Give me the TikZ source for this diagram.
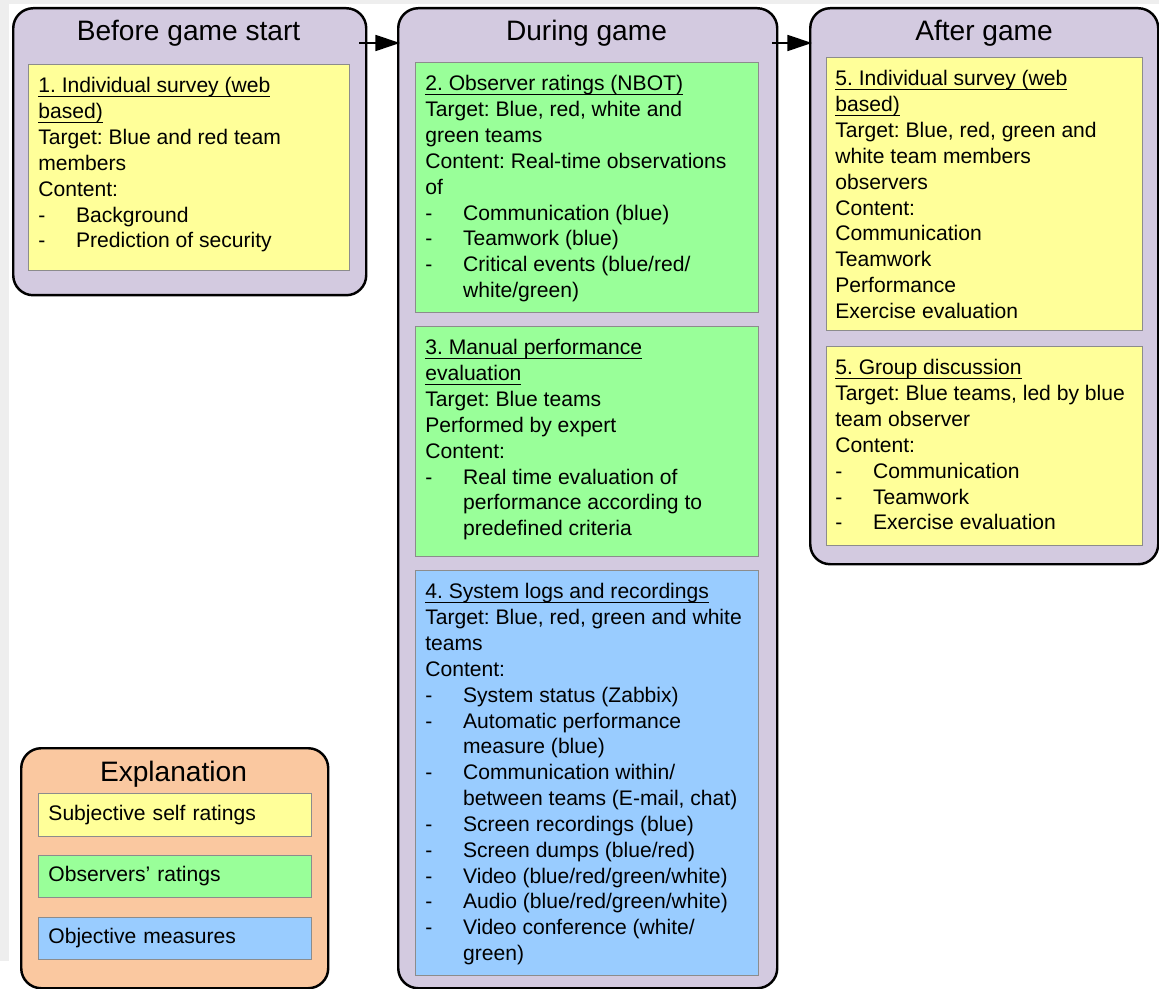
\documentclass[tikz,border=0pt]{standalone}
\usepackage{fontspec}
\setmainfont{Liberation Sans}
\usetikzlibrary{arrows.meta,calc}
\frenchspacing

\definecolor{lav}{RGB}{211,202,224}
\definecolor{yel}{RGB}{255,255,153}
\definecolor{grn}{RGB}{153,255,153}
\definecolor{blu}{RGB}{153,204,255}
\definecolor{peach}{RGB}{250,200,160}
\definecolor{haze}{RGB}{238,238,238}

% underlined heading line
\newcommand\uln[1]{\setbox0\hbox{#1}\rlap{\rule[-2.4pt]{\wd0}{0.6pt}}\box0}
% dashed list entry and its continuation line
\newcommand\dashitem[1]{\makebox[21.5pt][l]{-}#1}
\newcommand\cont[1]{\hspace*{21.5pt}#1}

\tikzset{
  stage/.style={draw=black, line width=1.4pt, rounded corners=0.4cm,
    anchor=north west, inner sep=0pt},
  card/.style={draw=black!45, line width=0.5pt, anchor=north west, inner sep=0pt},
  body/.style={anchor=north west, inner sep=0pt, align=left,
    font=\fontsize{12}{14.7}\selectfont},
  heading/.style={anchor=base, inner sep=0pt, font=\fontsize{16}{19}\selectfont},
  legend/.style={card, align=left, inner xsep=0.2cm, inner ysep=0pt,
    text width=5.06cm, font=\fontsize{12}{14.7}\selectfont},
  flow/.style={line width=1.3pt, -{Triangle[length=14pt,width=9pt]}},
}

\begin{document}
\begin{tikzpicture}[x=0.02cm, y=-0.02cm]
\useasboundingbox (0,0) rectangle (1159,989);
\clip (0,0) rectangle (1159,989);

% page margin strips
\fill[haze] (0,0) rectangle (1159,4);
\fill[haze] (0,0) rectangle (9,961);

% phase frames
\node[stage, fill=lav, minimum width={353*0.02cm}, minimum height={287*0.02cm}] (oA) at (12,7) {};
\node[stage, fill=lav, minimum width={379*0.02cm}, minimum height={980*0.02cm}] (oB) at (397,7) {};
\node[stage, fill=lav, minimum width={348*0.02cm}, minimum height={556*0.02cm}] (oC) at (809,7) {};
\node[stage, fill=peach, minimum width={307*0.02cm}, minimum height={240*0.02cm}] (oE) at (20,747) {};

% phase titles
\node[heading] (tA) at (188.5,41) {Before game start};
\node[heading] (tB) at (586.5,41) {During game};
\node[heading] (tC) at (984,41) {After game};
\node[heading] (tE) at (173.5,781) {Explanation};

% flow between phases
\draw[flow] ($(oA.north east)+(-8,36)$) -- ($(oB.north west)+(3,36)$);
\draw[flow] ($(oB.north east)+(-6,36)$) -- ($(oC.north west)+(3,36)$);

% measurement cards
\node[card, fill=yel, minimum width={321*0.02cm}, minimum height={206*0.02cm}] (c1) at (28,64) {};
\node[card, fill=grn, minimum width={343*0.02cm}, minimum height={250*0.02cm}] (c2) at (415,62) {};
\node[card, fill=grn, minimum width={343*0.02cm}, minimum height={230*0.02cm}] (c3) at (415,326) {};
\node[card, fill=blu, minimum width={343*0.02cm}, minimum height={405*0.02cm}] (c4) at (415,570) {};
\node[card, fill=yel, minimum width={316*0.02cm}, minimum height={273*0.02cm}] (c5) at (826,57) {};
\node[card, fill=yel, minimum width={316*0.02cm}, minimum height={199*0.02cm}] (c6) at (826,346) {};

\node[body] (x1) at ($(c1.north west)+(10,10.5)$) {\strut\uln{1. Individual survey (web}\\
\uln{based)}\\
Target: Blue and red team\\
members\\
Content:\\
\dashitem{Background}\\
\dashitem{Prediction of security}};

\node[body] (x2) at ($(c2.north west)+(10,10.5)$) {\strut\uln{2. Observer ratings (NBOT)}\\
Target: Blue, red, white and\\
green teams\\
Content: Real-time observations\\
of\\
\dashitem{Communication (blue)}\\
\dashitem{Teamwork (blue)}\\
\dashitem{Critical events (blue/red/}\\
\cont{white/green)}};

\node[body] (x3) at ($(c3.north west)+(10,10.5)$) {\strut\uln{3. Manual performance}\\
\uln{evaluation}\\
Target: Blue teams\\
Performed by expert\\
Content:\\
\dashitem{Real time evaluation of}\\
\cont{performance according to}\\
\cont{predefined criteria}};

\node[body] (x4) at ($(c4.north west)+(10,10.5)$) {\strut\uln{4. System logs and recordings}\\
Target: Blue, red, green and white\\
teams\\
Content:\\
\dashitem{System status (Zabbix)}\\
\dashitem{Automatic performance}\\
\cont{measure (blue)}\\
\dashitem{Communication within/}\\
\cont{between teams (E-mail, chat)}\\
\dashitem{Screen recordings (blue)}\\
\dashitem{Screen dumps (blue/red)}\\
\dashitem{Video (blue/red/green/white)}\\
\dashitem{Audio (blue/red/green/white)}\\
\dashitem{Video conference (white/}\\
\cont{green)}};

\node[body] (x5) at ($(c5.north west)+(9,10.5)$) {\strut\uln{5. Individual survey (web}\\
\uln{based)}\\
Target: Blue, red, green and\\
white team members\\
observers\\
Content:\\
Communication\\
Teamwork\\
Performance\\
Exercise evaluation};

\node[body] (x6) at ($(c6.north west)+(9,10.5)$) {\strut\uln{5. Group discussion}\\
Target: Blue teams, led by blue\\
team observer\\
Content:\\
\dashitem{Communication}\\
\dashitem{Teamwork}\\
\dashitem{Exercise evaluation}};

% legend entries
\node[legend, fill=yel, minimum height={43*0.02cm}] (l1) at (38,793) {Subjective self ratings};
\node[legend, fill=grn, minimum height={42*0.02cm}] (l2) at (38,855) {Observers’ ratings};
\node[legend, fill=blu, minimum height={42*0.02cm}] (l3) at (38,917) {Objective measures};
\end{tikzpicture}
\end{document}
